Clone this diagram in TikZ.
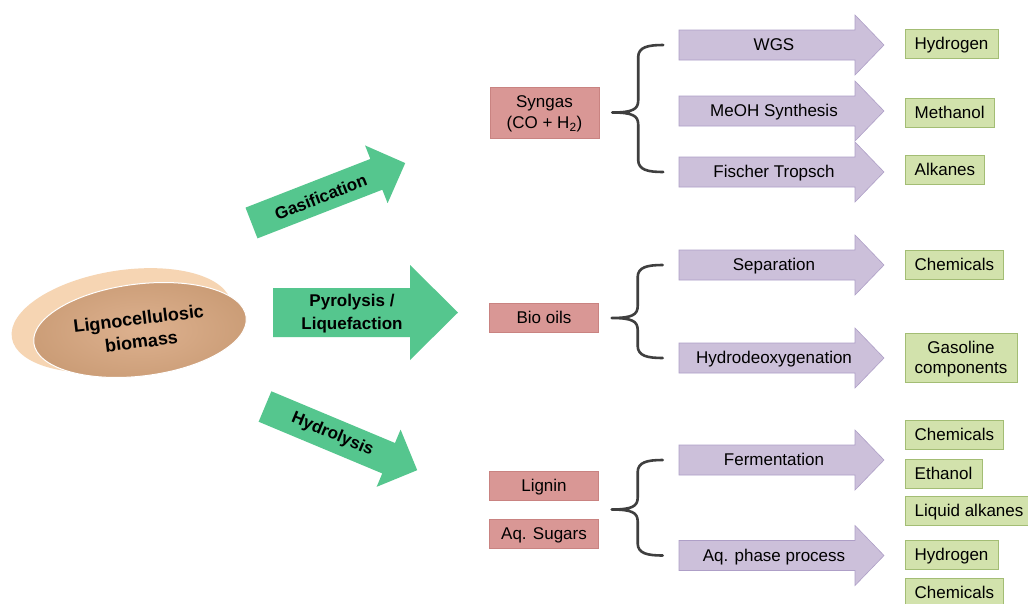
\documentclass[tikz,border=0pt]{standalone}
\usepackage{fontspec}
\setmainfont{Liberation Sans}
\usepackage{tikz}
\usetikzlibrary{shapes.geometric, calc}
\definecolor{mRose}{HTML}{D99795}
\definecolor{mRoseLine}{HTML}{C98381}
\definecolor{mLilac}{HTML}{CCC0DA}
\definecolor{mLilacLine}{HTML}{AE9FC7}
\definecolor{mLeaf}{HTML}{D2E2AC}
\definecolor{mLeafLine}{HTML}{A3BD74}
\definecolor{mMint}{HTML}{55C68E}
\definecolor{mTanLight}{HTML}{DDB18F}
\definecolor{mTanDark}{HTML}{CB9D77}
\definecolor{mPeach}{HTML}{F6D5B3}
\definecolor{mBrace}{HTML}{3F3F3F}

\begin{document}
\begin{tikzpicture}[x=1pt, y=-1pt,
    txt/.style={font=\fontsize{17}{21}\selectfont, inner sep=0pt, align=center},
    oneline/.style={text height=13.5pt, text depth=2pt},
    stage/.style={txt, fill=mRose, draw=mRoseLine, minimum width=109, minimum height=29},
    product/.style={txt, fill=mLeaf, draw=mLeafLine, inner xsep=9.5pt, minimum height=29, anchor=west},
    route/.style={fill=mMint},
    routetext/.style={font=\fontsize{17}{23}\selectfont\bfseries, align=center},
    proc/.style={fill=mLilac, draw=mLilacLine, line width=0.6pt},
    brace/.style={draw=mBrace, line width=2.6pt, line cap=round, line join=round}]
  \useasboundingbox (0,0) rectangle (1028,603);
  \fill[white] (0,0) rectangle (1028,603);

  \fill[mPeach, rotate around={9:(121.5,320.5)}] (121.5,320.5) ellipse [x radius=111, y radius=50];
  \node[ellipse, rotate=7, minimum width=214, minimum height=92, inner sep=0pt,
        inner color=mTanLight, outer color=mTanDark, shade, draw=white, line width=1pt,
        font=\fontsize{18}{23}\selectfont\bfseries, align=center] (biomass) at (140,330) {Lignocellulosic\\biomass};

  \begin{scope}[shift={(251.5,223)}, rotate=21.3]
    \fill[route] (0,-16.5) -- (134,-16.5) -- (134,-31) -- (165,0) -- (134,31) -- (134,16.5) -- (0,16.5) -- cycle;
    \node[routetext, rotate=21.3] (gas) at (74,1) {Gasification};
  \end{scope}
  \fill[route] (273,288) -- (410,288) -- (410,265) -- (458,312.5) -- (410,360) -- (410,337) -- (273,337) -- cycle;
  \node[routetext] (pyro) at (352,314) {Pyrolysis /\\Liquefaction};
  \begin{scope}[shift={(265,406.5)}, rotate=-22.7]
    \fill[route] (0,-16.5) -- (134,-16.5) -- (134,-31) -- (165,0) -- (134,31) -- (134,16.5) -- (0,16.5) -- cycle;
    \node[routetext, rotate=-22.7] (hydro) at (73,0) {Hydrolysis};
  \end{scope}

  \node[stage, minimum height=51, text depth=0pt] (syngas) at (544.5,112.5) {Syngas\\(CO + H\textsubscript{2})};
  \node[stage, oneline] (biooils) at (544,318) {Bio oils};
  \node[stage, oneline] (lignin) at (544,485.5) {Lignin};
  \node[stage, oneline] (sugars) at (544,533.5) {Aq. Sugars};
  \coordinate (hydroin) at ($(lignin.east)!0.5!(sugars.east)$);

  \foreach \y/\name/\txt in {45/wgs/WGS, 111/meoh/MeOH Synthesis, 172/ft/Fischer Tropsch,
      265/sep/Separation, 358/hdo/Hydrodeoxygenation, 460/ferm/Fermentation, 555.5/aqp/Aq. phase process} {
    \filldraw[proc] (679,\y-15) -- (855,\y-15) -- (855,\y-30) -- (884,\y) -- (855,\y+30) -- (855,\y+15) -- (679,\y+15) -- cycle;
    \node[txt, oneline] (\name) at (774,\y) {\txt};
  }

  \foreach \src/\hi/\lo in {syngas.east/wgs/ft, biooils.east/sep/hdo, hydroin/ferm/aqp}
    \draw[brace] let \p1=($(\src)+(13,0)$), \p2=(\hi), \p3=(\lo) in
      (\x1+51pt,\y2) .. controls (\x1+36pt,\y2) and (\x1+26pt,\y2-2pt) .. (\x1+26pt,\y2-12pt)
      -- (\x1+26pt,\y1+12pt) .. controls (\x1+26pt,\y1+3pt) and (\x1+20pt,\y1) .. (\x1,\y1)
      .. controls (\x1+20pt,\y1) and (\x1+26pt,\y1-3pt) .. (\x1+26pt,\y1-12pt)
      -- (\x1+26pt,\y3+12pt) .. controls (\x1+26pt,\y3+2pt) and (\x1+36pt,\y3) .. (\x1+51pt,\y3);

  \foreach \y/\name/\txt in {44/hyda/Hydrogen, 112.5/meth/Methanol, 170/alk/Alkanes, 264.5/chema/Chemicals,
      434.5/chemb/Chemicals, 473.5/eth/Ethanol, 511/liq/Liquid alkanes, 555/hydb/Hydrogen, 592.5/chemc/Chemicals}
    \node[product, oneline] (\name) at (905,\y) {\txt};
  \node[product, font=\fontsize{17}{20}\selectfont, text depth=0pt, minimum height=49] (gasol) at (905,357.5) {Gasoline\\components};
\end{tikzpicture}
\end{document}
